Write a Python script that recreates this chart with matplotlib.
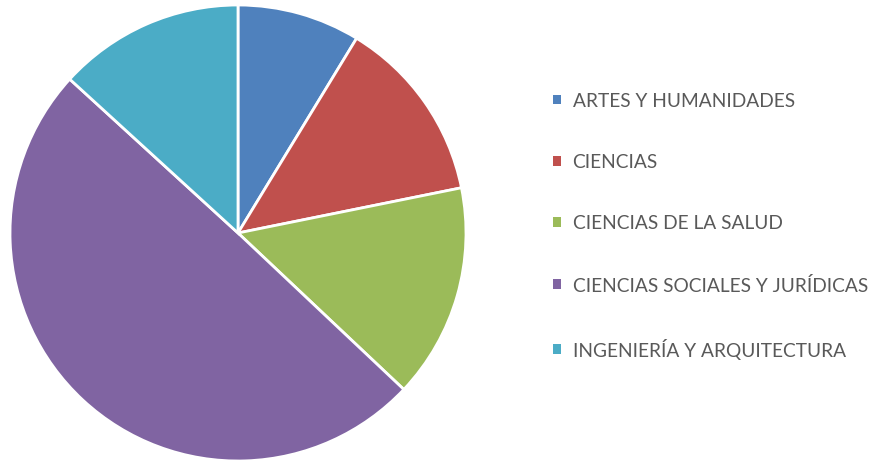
import matplotlib.pyplot as plt

labels = ['ARTES Y HUMANIDADES', 'CIENCIAS', 'CIENCIAS DE LA SALUD',
          'CIENCIAS SOCIALES Y JURÍDICAS', 'INGENIERÍA Y ARQUITECTURA']
values = [8.7, 13.1, 15.2, 49.7, 13.2]
colors = ['#4F81BD', '#C0504D', '#9BBB59', '#8064A2', '#4BACC6']

plt.rcParams['font.family'] = ['Lato', 'DejaVu Sans']

fig = plt.figure(figsize=(8.75, 4.64), dpi=100)
# pie center ~ (238, 234) px, radius ~228 px
ax = fig.add_axes([10 / 875, 1 - 462 / 464, 456 / 875, 456 / 464])
wedges, _ = ax.pie(values, colors=colors, startangle=90, counterclock=False,
                   wedgeprops=dict(edgecolor='white', linewidth=2))
ax.set_xlim(-1, 1)
ax.set_ylim(-1, 1)
ax.set_aspect('equal')

leg = fig.legend(wedges, labels, loc='center left',
                 bbox_to_anchor=(553 / 875, 1 - 226.5 / 464),
                 frameon=False, fontsize=13.8, labelspacing=2.3,
                 handlelength=0.42, handleheight=0.42, handletextpad=0.6,
                 borderpad=0, borderaxespad=0)
for t in leg.get_texts():
    t.set_color('#595959')
for h in leg.legend_handles:
    h.set_edgecolor('none')

fig.savefig('out.png', dpi=100)
